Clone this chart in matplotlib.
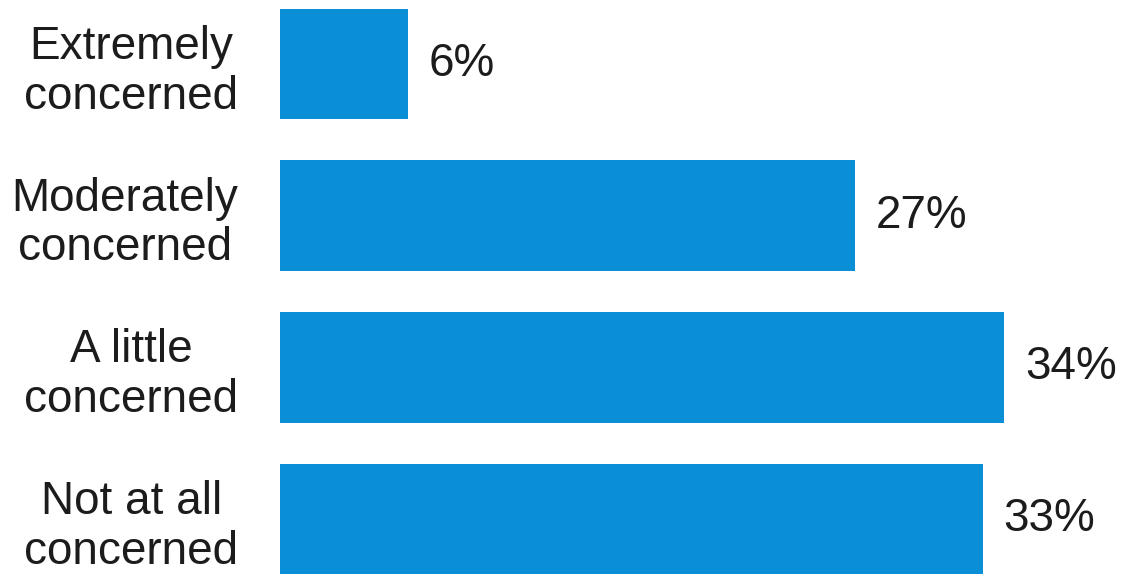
import matplotlib.pyplot as plt

categories = ["Extremely\nconcerned", "Moderately\nconcerned", "A little\nconcerned", "Not at all\nconcerned"]
values = [6, 27, 34, 33]
value_labels = ["6%", "27%", "34%", "33%"]

plt.rcParams['font.family'] = ['Liberation Sans', 'DejaVu Sans']

fig = plt.figure(figsize=(11.32, 5.79), dpi=100)
ax = fig.add_axes([0.2473, 0.0, 0.7527, 1.0])

pos = list(range(len(categories)))
bars = ax.barh(pos, values, height=0.73, color="#0A8FD6")

# percentage labels just past the bar ends
for b, lab in zip(bars, value_labels):
    ax.annotate(lab, (b.get_width(), b.get_y() + b.get_height() / 2),
                xytext=(15, 0), textcoords="offset points",
                ha="left", va="center", fontsize=33, color="#1c1c1c")

ax.set_xlim(0, 40)
ax.set_ylim(3.395, -0.422)
ax.set_yticks(pos)
ax.set_yticklabels(categories, fontsize=33, color="#1c1c1c",
                   multialignment="center", linespacing=1.17)
ax.tick_params(axis="y", length=0, pad=30)
ax.set_xticks([])
for s in ax.spines.values():
    s.set_visible(False)

fig.savefig("out.png", dpi=100)
